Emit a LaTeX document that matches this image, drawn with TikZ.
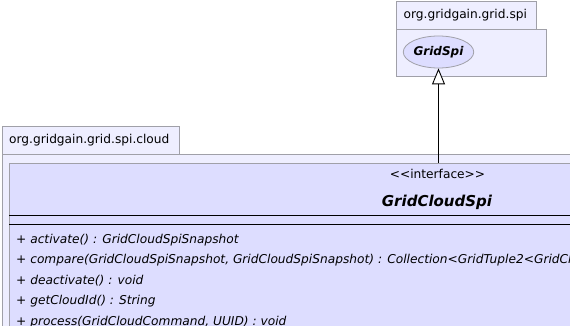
\documentclass[tikz,border=0pt]{standalone}
\usepackage{fontspec}
\setmainfont{DejaVu Sans}
\usetikzlibrary{shapes.geometric,arrows.meta}
\definecolor{pkgfill}{HTML}{EEEEFF}
\definecolor{pkgline}{HTML}{A0A0A8}
\definecolor{clsfill}{HTML}{DDDDFF}
\tikzset{
  pkgtab/.style={draw=pkgline, fill=pkgfill, line width=0.8pt},
  pkgbody/.style={draw=pkgline, fill=pkgfill, line width=0.8pt},
  pkglabel/.style={anchor=west, inner sep=0pt, font=\fontsize{12.2}{14}\selectfont},
  clsbox/.style={draw=pkgline, fill=clsfill, line width=0.8pt},
  ifacebox/.style={ellipse, draw=pkgline, fill=clsfill, line width=0.8pt,
    minimum width=69pt, minimum height=32pt, inner sep=0pt,
    font=\fontsize{12}{14}\selectfont\bfseries\itshape},
  stereo/.style={inner sep=0pt, font=\fontsize{12.2}{14}\selectfont},
  clsname/.style={inner sep=0pt, font=\fontsize{15}{18}\selectfont\bfseries\itshape},
  member/.style={anchor=west, inner sep=0pt, font=\fontsize{12.2}{14}\selectfont\itshape},
  sep/.style={line width=0.9pt},
  realize/.style={line width=0.9pt, -{Triangle[open, length=16pt, width=13pt, fill=white]}}
}
\newcommand{\vis}{\textup{+}}
\begin{document}
\begin{tikzpicture}[x=1pt, y=-1pt]
\useasboundingbox (0,0) rectangle (570,326);
\clip (0,0) rectangle (570,326);
% package org.gridgain.grid.spi
\draw[pkgtab] (396,1.5) rectangle (536,29);
\draw[pkgbody] (396,29) rectangle (546,76);
\node[pkglabel] (pkgspi) at (403.5,15) {org.gridgain.grid.spi};
\node[ifacebox] (gridspi) at (438.5,52) {GridSpi};
% package org.gridgain.grid.spi.cloud
\draw[pkgtab] (2,126) rectangle (179,154);
\draw[pkgbody] (2,154) rectangle (640,420);
\node[pkglabel] (pkgcloud) at (9,140) {org.gridgain.grid.spi.cloud};
% interface GridCloudSpi
\node[clsbox, minimum width=856pt, minimum height=240pt, anchor=north west, inner sep=0pt] (cls) at (9,163) {};
\node[stereo] (stereotype) at (437.5,174) {{<}{<}interface{>}{>}};
\node[clsname] (clsname) at (437,202) {GridCloudSpi};
\draw[sep] (cls.west |- 0,215) coordinate (s1) -- (cls.east |- 0,215);
\draw[sep] (cls.west |- 0,224) coordinate (s2) -- (cls.east |- 0,224);
\node[member] (m1) at (16,240.5) {\vis{} activate() : GridCloudSpiSnapshot};
\node[member] (m2) at (16,260.5) {\vis{} compare(GridCloudSpiSnapshot, GridCloudSpiSnapshot) : Collection{<}GridTuple2{<}GridCloudResource, GridCloudSpiResourceAction{>}{>}};
\node[member] (m3) at (16,281) {\vis{} deactivate() : void};
\node[member] (m4) at (16,301.5) {\vis{} getCloudId() : String};
\node[member] (m5) at (16,322) {\vis{} process(GridCloudCommand, UUID) : void};
% realization
\draw[realize] (gridspi.south |- cls.north) -- (gridspi.south);
\end{tikzpicture}
\end{document}
